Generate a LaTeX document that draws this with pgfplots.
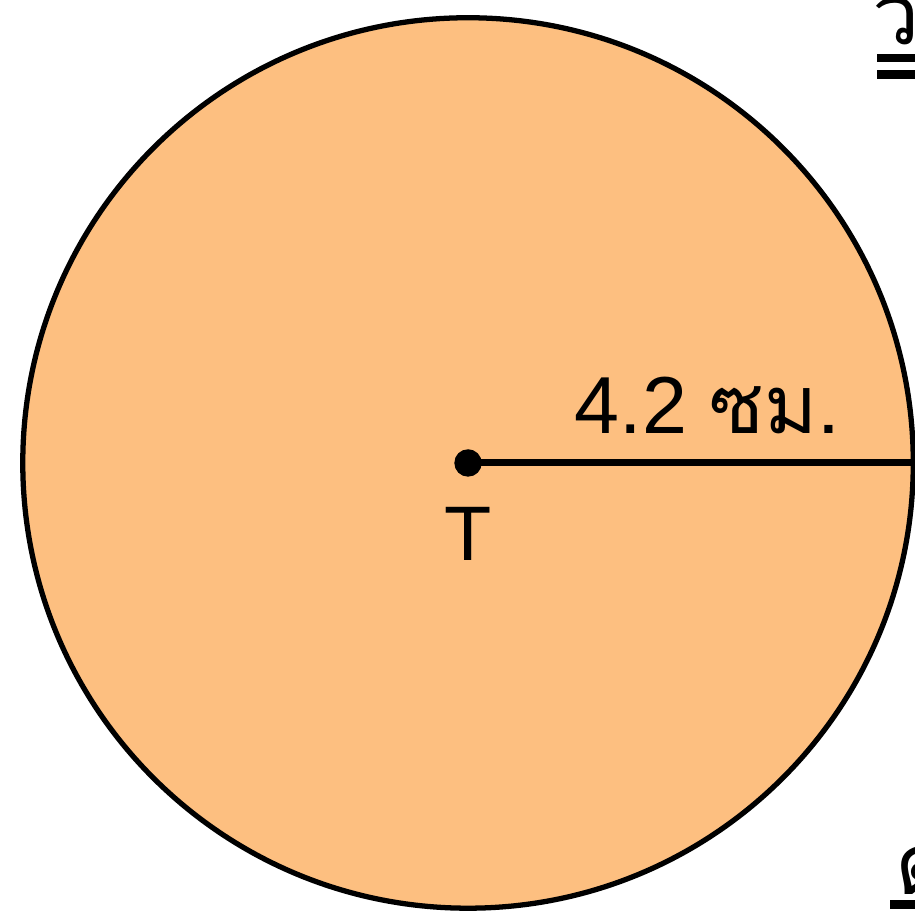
\documentclass[border=0pt]{standalone}
\usepackage{pgfplots}
\pgfplotsset{compat=1.18}
\usepackage{fontspec}
\setmainfont{Liberation Sans}
\newfontfamily\thaifont[Script=Thai]{Loma}
\definecolor{circlefill}{RGB}{253,191,128}

\begin{document}
\begin{tikzpicture}
\begin{axis}[
    scale only axis,
    width=9.15cm,
    height=9.14cm,
    xmin=-4.378, xmax=4.181,
    ymin=-4.219, ymax=4.331,
    hide axis,
    clip=false,
]
% circle of radius 4.2 cm (drawn in axis units)
\draw[line width=1.5pt, fill=circlefill] (axis cs:0,0) circle[radius=4.165];
% radius
\addplot[black, line width=2pt, mark=none] coordinates {(0,0) (4.165,0)};
% centre point
\addplot[black, only marks, mark=*, mark size=3.7pt] coordinates {(0,0)};
\node[anchor=base, font=\fontsize{23}{27}\selectfont] at (axis cs:2.24,0.28)
    {4.2 {\thaifont ซม.}};
\node[anchor=base, font=\fontsize{22}{26}\selectfont] at (axis cs:0,-0.91) {T};
% cut-off text on the right edge
\node[anchor=base west, inner sep=0pt, font=\thaifont\fontsize{24}{28}\selectfont]
    at (axis cs:3.78,3.91) {วิธีทำ};
\draw[line width=2.4pt] (axis cs:3.83,3.79) -- (axis cs:4.6,3.79);
\draw[line width=2.6pt] (axis cs:3.83,3.63) -- (axis cs:4.6,3.63);
\node[anchor=base west, inner sep=0pt, font=\thaifont\fontsize{24}{28}\selectfont]
    at (axis cs:3.99,-4.04) {ตอบ};
\draw[line width=2.4pt] (axis cs:3.95,-4.13) -- (axis cs:4.6,-4.13);
\end{axis}
\pgfresetboundingbox
\useasboundingbox (current axis.south west) rectangle (current axis.north east);
\end{tikzpicture}
\end{document}
